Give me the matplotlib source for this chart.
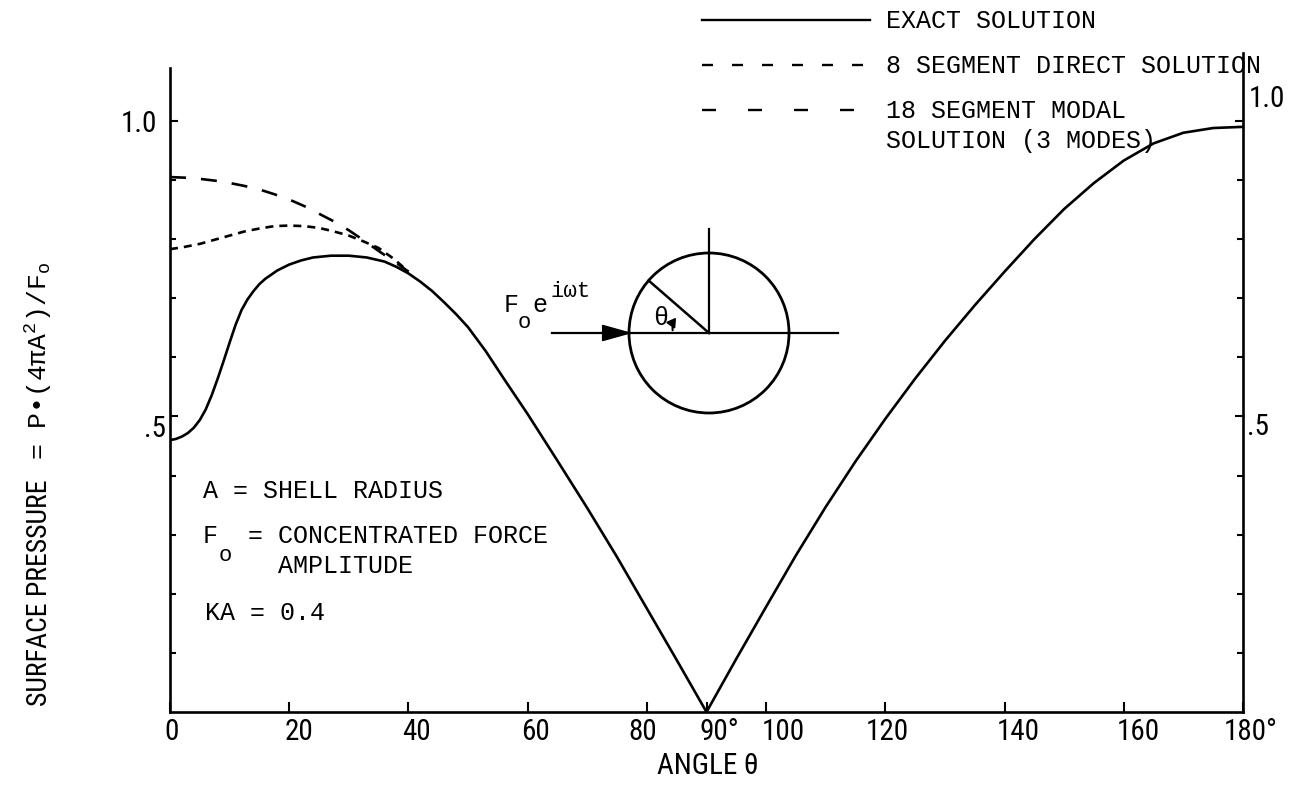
import matplotlib
matplotlib.use("Agg")
import matplotlib.pyplot as plt
from matplotlib import font_manager
from matplotlib.font_manager import FontProperties
from matplotlib.patches import Circle, Polygon, FancyArrowPatch
from matplotlib.lines import Line2D
from matplotlib.transforms import ScaledTranslation
import numpy as np

# ---------------- data ----------------
theta_exact = [0, 1, 2, 3, 4, 5, 6, 7, 8, 9, 10, 11, 12, 13, 14, 15, 16, 18, 20,
               22, 24, 27, 30, 33, 36, 38, 40, 42, 44, 46, 48, 50, 53, 56, 60,
               65, 70, 75, 80, 85, 90, 95, 100, 105, 110, 115, 120, 125, 130,
               135, 140, 145, 150, 155, 160, 165, 170, 175, 180]
p_exact = [0.460, 0.462, 0.466, 0.472, 0.481, 0.494, 0.512, 0.536, 0.564, 0.594,
           0.625, 0.655, 0.680, 0.698, 0.712, 0.724, 0.733, 0.747, 0.757,
           0.764, 0.769, 0.772, 0.772, 0.769, 0.762, 0.753, 0.742, 0.728,
           0.712, 0.693, 0.673, 0.651, 0.610, 0.564, 0.504,
           0.425, 0.345, 0.262, 0.175, 0.088, 0.0, 0.090, 0.178, 0.265,
           0.347, 0.424, 0.496, 0.564, 0.628, 0.688, 0.745, 0.800, 0.851,
           0.895, 0.933, 0.962, 0.980, 0.988, 0.990]

theta_direct8 = [0, 2.5, 5, 7.5, 10, 12.5, 15, 17.5, 20, 22.5, 25, 27.5, 30,
                 32.5, 35, 37.5, 40]
p_direct8 = [0.783, 0.787, 0.792, 0.799, 0.806, 0.813, 0.818, 0.822, 0.823,
             0.822, 0.819, 0.813, 0.806, 0.796, 0.785, 0.767, 0.745]

theta_modal18 = [0, 2.5, 5, 7.5, 10, 12.5, 15, 17.5, 20, 22.5, 25, 27.5, 30,
                 32.5, 35, 37.5, 40]
p_modal18 = [0.905, 0.904, 0.902, 0.899, 0.895, 0.890, 0.884, 0.876, 0.867,
             0.856, 0.843, 0.830, 0.815, 0.798, 0.780, 0.763, 0.745]

x_ticks = [0, 20, 40, 60, 80, 90, 100, 120, 140, 160, 180]
x_tick_labels = ["0", "20", "40", "60", "80", "90°", "100", "120", "140", "160", "180°"]
y_major = [0.5, 1.0]
y_major_labels = [".5", "1.0"]
y_minor = [0.1, 0.2, 0.3, 0.4, 0.6, 0.7, 0.8, 0.9]

legend_labels = ["EXACT SOLUTION", "8 SEGMENT DIRECT SOLUTION",
                 "18 SEGMENT MODAL", "SOLUTION (3 MODES)"]

# ---------------- fonts ----------------
def pick(*names):
    for n in names:
        try:
            font_manager.findfont(FontProperties(family=n), fallback_to_default=False)
            return n
        except Exception:
            pass
    return "DejaVu Sans"

NARROW = pick("Liberation Sans Narrow", "Roboto Condensed", "Liberation Sans")
MONO = pick("Liberation Mono", "DejaVu Sans Mono")
NARROW_F = [NARROW, "DejaVu Sans"]
MONO_F = [MONO, "DejaVu Sans Mono", "DejaVu Sans"]

plt.rcParams["font.family"] = NARROW_F
plt.rcParams["mathtext.fontset"] = "custom"
plt.rcParams["mathtext.rm"] = MONO
plt.rcParams["mathtext.default"] = "regular"
plt.rcParams["lines.scale_dashes"] = False

W, H, DPI = 1307, 785, 100
fig = plt.figure(figsize=(W / DPI, H / DPI), dpi=DPI)
fig.patch.set_facecolor("white")

def fx(px):
    return px / W

def fy(py):
    return 1 - py / H

def pt(px):
    return px * 72.0 / DPI

# ---------------- main axes ----------------
ax = fig.add_axes([fx(170), fy(712), fx(1243) - fx(170), fy(50) - fy(712)])
ax.set_xlim(0, 180)
ax.set_ylim(0, 1.12)
ax.patch.set_alpha(0)

LW = 1.9
ax.plot(theta_exact, p_exact, color="black", lw=LW, solid_joinstyle="round")
ax.plot(theta_direct8, p_direct8, color="black", lw=LW,
        dashes=(pt(8), pt(6)), dash_capstyle="butt")
ax.plot(theta_modal18, p_modal18, color="black", lw=LW,
        dashes=(pt(16), pt(15)), dash_capstyle="butt")

ax.spines["top"].set_visible(False)
for s in ["left", "right", "bottom"]:
    ax.spines[s].set_linewidth(1.9)
ax.spines["left"].set_bounds(0, 1.09)
ax.spines["right"].set_bounds(0, 1.115)

ax.set_xticks(x_ticks)
ax.set_xticklabels(x_tick_labels)
ax.set_yticks(y_major)
ax.set_yticklabels(y_major_labels)
ax.set_yticks(y_minor, minor=True)
ax.yaxis.set_ticks_position("both")
ax.tick_params(axis="both", which="both", direction="in", width=1.5, color="black")
ax.tick_params(axis="x", which="major", length=7, pad=4, labelsize=21)
ax.tick_params(axis="y", which="major", length=6, pad=3, labelsize=21,
               labelleft=True, labelright=True)
ax.tick_params(axis="y", which="minor", length=4)

# per-label offsets (pixels) as placed in the reference
x_off = {0: 2, 20: 10, 40: 8, 60: 8, 80: -4, 90: 13, 100: 17, 120: 2,
         140: 14, 160: 15, 180: 8}
for t, lab in zip(ax.xaxis.get_major_ticks(), x_ticks):
    dx = x_off.get(lab, 0)
    t.label1.set_transform(t.label1.get_transform() +
                           ScaledTranslation(dx / DPI, 0, fig.dpi_scale_trans))

y_off_left = {0.5: (0, -10), 1.0: (-9, 0)}
y_off_right = {0.5: (0, -8), 1.0: (2, 25)}
for t, v in zip(ax.yaxis.get_major_ticks(), y_major):
    dx, dy = y_off_left[v]
    t.label1.set_transform(t.label1.get_transform() +
                           ScaledTranslation(dx / DPI, dy / DPI, fig.dpi_scale_trans))
    dx, dy = y_off_right[v]
    t.label2.set_transform(t.label2.get_transform() +
                           ScaledTranslation(dx / DPI, dy / DPI, fig.dpi_scale_trans))

# x axis label
fig.text(fx(708), fy(766), "ANGLE θ", ha="center", va="center",
         fontsize=21, family=NARROW_F)

# y axis label (two fonts, rotated)
fig.text(fx(47), fy(706), "SURFACE PRESSURE", rotation=90, rotation_mode="anchor",
         ha="left", va="baseline", fontsize=20, family=NARROW_F)
fig.text(fx(47), fy(460), "= P•(4πA$^{2}$)/F$_{o}$", rotation=90,
         rotation_mode="anchor", ha="left", va="baseline", fontsize=19,
         family=MONO_F)

# ---------------- annotation text block ----------------
TS = 18
fig.text(fx(203), fy(498), "A = SHELL RADIUS", fontsize=TS, family=MONO_F,
         va="baseline")
fig.text(fx(203), fy(543), "F", fontsize=TS, family=MONO_F, va="baseline")
fig.text(fx(219), fy(561), "o", fontsize=16, family=MONO_F, va="baseline")
fig.text(fx(248), fy(543), "= CONCENTRATED FORCE", fontsize=TS, family=MONO_F,
         va="baseline")
fig.text(fx(278), fy(573), "AMPLITUDE", fontsize=TS, family=MONO_F, va="baseline")
fig.text(fx(205), fy(620), "KA = 0.4", fontsize=TS, family=MONO_F, va="baseline")

# ---------------- legend (drawn as in the reference) ----------------
leg_rows = [20, 65, 110]
leg_styles = [None, (pt(11), pt(19)), (pt(14), pt(32))]
for yy, dsh in zip(leg_rows, leg_styles):
    ln = Line2D([fx(702), fx(870)], [fy(yy), fy(yy)], transform=fig.transFigure,
                color="black", lw=1.7)
    if dsh is not None:
        ln.set_dashes(dsh)
        ln.set_dash_capstyle("butt")
    fig.add_artist(ln)
for lab, base in zip(legend_labels, [28, 73, 118, 148]):
    fig.text(fx(886), fy(base), lab, fontsize=TS, family=MONO_F, va="baseline")

# ---------------- inset sketch: sphere with force ----------------
R = 80.0  # circle radius in pixels
cx, cy = 709, 333
l, r, t_, b = 540, 850, 220, 425
ax2 = fig.add_axes([fx(l), fy(b), fx(r) - fx(l), fy(t_) - fy(b)])
ax2.set_xlim((l - cx) / R, (r - cx) / R)
ax2.set_ylim((cy - b) / R, (cy - t_) / R)
ax2.axis("off")
ax2.patch.set_alpha(0)
ax2.plot([(552 - cx) / R, (838 - cx) / R], [0, 0], color="black", lw=1.6)
ax2.plot([0, 0], [0, 1.3], color="black", lw=1.6)
ax2.add_patch(Circle((0, 0), 1.0, fill=False, lw=2.0, color="black"))
ang = np.deg2rad(139)
ax2.plot([0, np.cos(ang)], [0, np.sin(ang)], color="black", lw=1.8)
ax2.add_patch(Polygon([[-1.33, 0.095], [-0.99, 0.0], [-1.33, -0.095]],
                      closed=True, color="black"))
ax2.add_patch(FancyArrowPatch((-0.45, 0.0), (-0.39, 0.22),
                              connectionstyle="arc3,rad=-0.25",
                              arrowstyle="-|>,head_length=5,head_width=3",
                              color="black", lw=1.5))
ax2.text(-0.6, 0.19, "θ", ha="center", va="center", fontsize=18, family=MONO_F)

fig.text(fx(504), fy(312), "F", fontsize=TS, family=MONO_F, va="baseline")
fig.text(fx(518), fy(328), "o", fontsize=16, family=MONO_F, va="baseline")
fig.text(fx(532), fy(312), "e", fontsize=TS, family=MONO_F, va="baseline")
fig.text(fx(550), fy(297), "iωt", fontsize=16, family=MONO_F, va="baseline")

fig.savefig("out.png", dpi=DPI, facecolor="white")
